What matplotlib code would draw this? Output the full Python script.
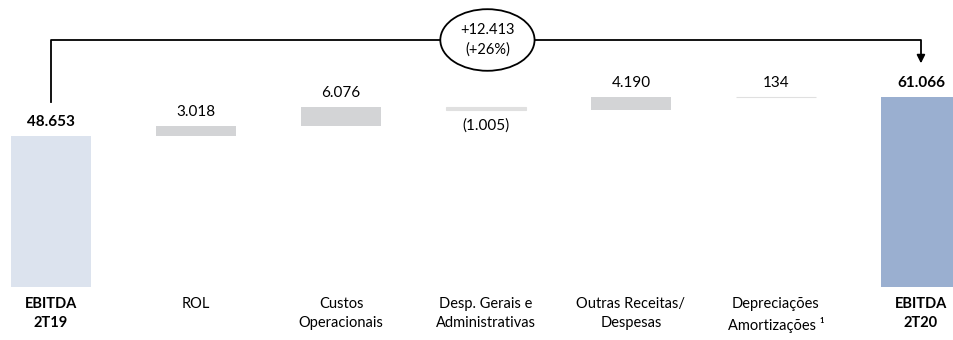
import matplotlib.pyplot as plt
from matplotlib.patches import Ellipse

categorias = ["EBITDA\n2T19", "ROL", "Custos\nOperacionais", "Desp. Gerais e\nAdministrativas",
              "Outras Receitas/\nDespesas", "Depreciações\nAmortizações ¹", "EBITDA\n2T20"]
inicio = 48653
variacoes = [3018, 6076, -1005, 4190, 134]
fim = 61066
rotulos = ["48.653", "3.018", "6.076", "(1.005)", "4.190", "134", "61.066"]
delta_txt = "+12.413\n(+26%)"

plt.rcParams['font.family'] = ['Lato', 'DejaVu Sans']

fig = plt.figure(figsize=(9.54, 3.4), dpi=100)
ax = fig.add_axes([0, 0, 1, 1])
ax.set_xlim(-0.352, 6.228)
ax.set_ylim(-17036, 92253)
ax.axis('off')

w = 0.55
cor_ini = "#dce3ee"
cor_fim = "#9aafd0"
cor_var = "#d3d4d6"

# barra inicial
ax.bar(0, inicio, width=w, color=cor_ini)
ax.annotate(rotulos[0], (0, inicio), xytext=(0, 5), textcoords='offset points',
            ha='center', va='bottom', fontsize=11, fontweight='bold')

acum = inicio
for i, v in enumerate(variacoes):
    x = i + 1
    base = acum if v >= 0 else acum + v
    if abs(v) > 1500:
        ax.bar(x, abs(v), bottom=base, width=w, color=cor_var)
    else:
        # variação pequena: aparece como um traço fino
        ax.bar(x, abs(v), bottom=base, width=w, color="#e0e0e0",
               edgecolor="#e0e0e0", linewidth=0.8)
    if v >= 0:
        ax.annotate(rotulos[x], (x, acum + v), xytext=(0, 5), textcoords='offset points',
                    ha='center', va='bottom', fontsize=11)
    else:
        ax.annotate(rotulos[x], (x, acum + v), xytext=(0, -6), textcoords='offset points',
                    ha='center', va='top', fontsize=11)
    acum += v

# barra final
ax.bar(6, fim, width=w, color=cor_fim)
ax.annotate(rotulos[6], (6, fim), xytext=(0, 5), textcoords='offset points',
            ha='center', va='bottom', fontsize=11, fontweight='bold')

# rótulos das categorias
for i, c in enumerate(categorias):
    negrito = 'bold' if c.startswith("EBITDA") else 'normal'
    ax.annotate(c, (i, 0), xytext=(0, -7), textcoords='offset points',
                ha='center', va='top', fontsize=10.5, fontweight=negrito, linespacing=1.5)

# colchete com a variação
y_top = 79400
ax.plot([0, 0, 6, 6], [59500, y_top, y_top, 73500], color='black', lw=1.3, zorder=3)
ax.annotate('', xy=(6, 71000), xytext=(6, 74500),
            arrowprops=dict(arrowstyle='-|>', color='black', lw=1.3, mutation_scale=12), zorder=3)
ax.add_patch(Ellipse((3.01, y_top), 0.65, 19800, facecolor='white', edgecolor='black', lw=1.3, zorder=4))
ax.text(3.01, y_top, delta_txt, ha='center', va='center', fontsize=10.5, linespacing=1.45, zorder=5)

fig.savefig("out.png", dpi=100)
